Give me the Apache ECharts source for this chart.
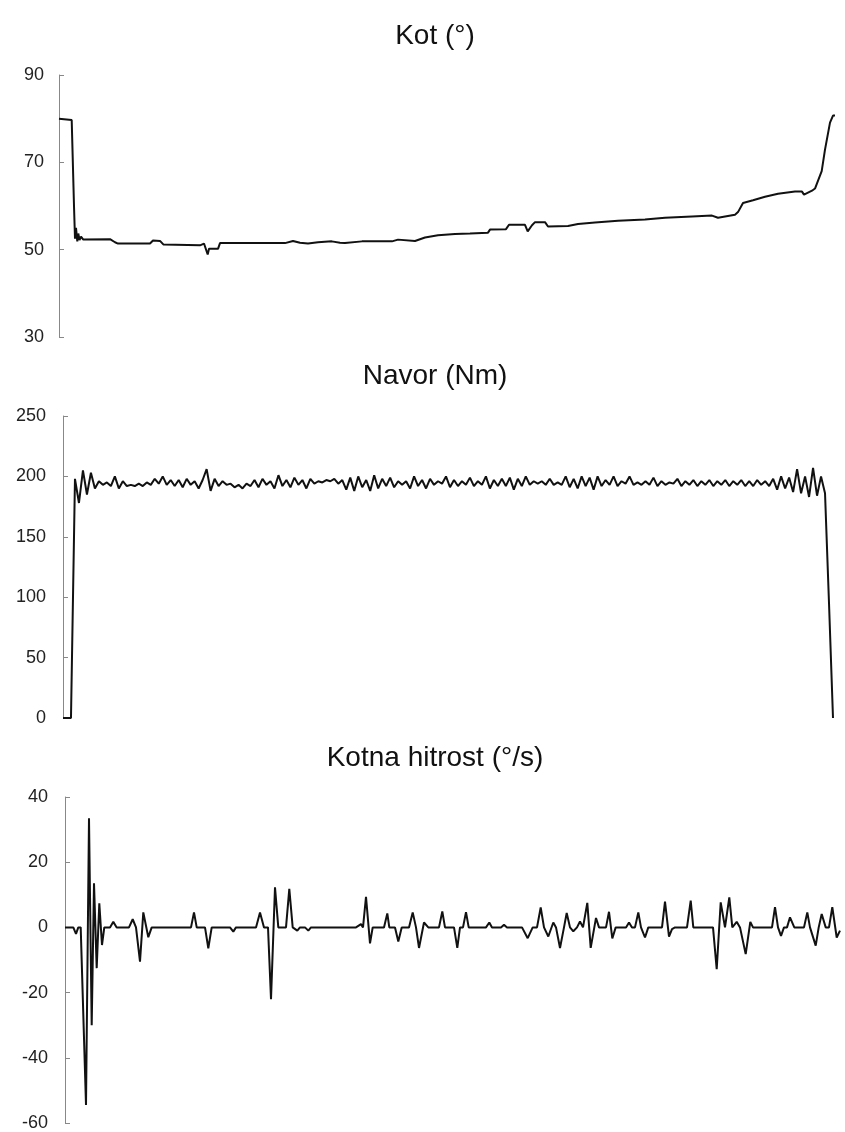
<!DOCTYPE html>
<html>
<head>
<meta charset="utf-8">
<script src="https://cdn.jsdelivr.net/npm/echarts@6/dist/echarts.min.js"></script>
<style>
html,body{margin:0;padding:0;background:#fff;}
#chart{width:845px;height:1132px;}
</style>
</head>
<body>
<div id="chart"></div>
<script>
// ---------- Titles ----------
const titles = ['Kot (°)', 'Navor (Nm)', 'Kotna hitrost (°/s)'];

// ---------- Y-axis ticks ----------
const angleTicks = [30, 50, 70, 90];
const torqueTicks = [0, 50, 100, 150, 200, 250];
const velocityTicks = [-60, -40, -20, 0, 20, 40];

// ---------- Kot (angle): time sample, value ----------
const angleTime = [0,12.7,15,16,17,18.3,19.3,20.5,22,24.3,51,52.7,56,59,91,94,101,104.3,141,145,148.7,150,159,161,216,218,226,234,241,249,259,272.7,281,286,303,333,339,356,366,379,396,411,429,431,447,450,466,468.7,473,476,486,489,509,519,536,559,586,606,633,653,659,676,679,684,694,706,719,736,743,745,753,756,758,762.7,766,771,774,776];
const angleValue = [80,79.7,60,52.5,55,51.9,53.7,52.2,53,52.3,52.4,52.8,51.7,51.4,51.4,52.1,52.0,51.2,51.0,51.4,48.9,50.2,50.2,51.5,51.5,51.9,51.5,52.0,51.6,51.4,51.7,51.9,51.6,51.5,51.9,51.9,52.3,52.0,52.8,53.3,53.6,53.7,53.9,54.6,54.7,55.7,55.7,54.2,55.6,56.3,56.3,55.3,55.4,55.9,56.2,56.6,56.9,57.3,57.6,57.8,57.3,58.0,58.6,60.7,61.3,62.1,62.8,63.3,63.3,62.6,63.5,64.0,65.2,68.0,72.9,79.1,80.7,80.7];

// ---------- Navor (torque): uniformly spaced samples ----------
const torqueValue = [
0,0,0,198,178,205,185,203,190,196,193,195,192,200,190,196,192,193,192,194,
192,195,193,198,194,200,193,197,192,197,191,198,193,196,190,197,206,188,198,192,
196,193,194,191,193,190,194,192,197,191,198,193,196,190,201,192,197,191,199,193,
197,190,198,194,196,195,197,196,198,194,197,189,199,188,200,191,197,188,201,190,
198,192,199,191,196,193,196,190,200,192,197,190,198,193,196,194,200,191,197,192,
196,193,199,192,196,193,200,190,197,192,198,192,199,189,198,192,200,193,196,194,
196,193,198,193,195,193,200,191,198,190,200,192,199,189,200,192,197,193,200,192,
196,194,200,193,195,193,196,193,199,192,196,193,195,194,198,192,196,193,197,192,
196,193,197,192,196,193,197,192,196,193,197,192,196,192,197,193,196,192,198,189,
200,190,199,187,206,186,200,183,207,184,200,186,95,0];

// ---------- Kotna hitrost (angular velocity): time sample, value ----------
const velocityTime = [
0,8.3,11,13.3,15.7,21,24,26.7,29,31.7,34.3,37,39.3,
45,48.3,51.7,
64,67.7,71,75,78.3,83.3,86.7,
126,129,131.7,140,143.3,146.7,
165,168.3,171,
191,195,199,203,206,210,213.3,
221,224.3,227.7,229,232.3,235,240,243.3,246,
291,296,298,301,305,307.7,
319,322.3,324.3,330,333.3,336.7,
344,347.7,351,354,359,363.3,
374,377.3,380,
389,392.3,395,398,401,403.7,
421,424.3,427,436,439,442,
457,462.7,467.7,472,475.7,479,483.3,488.3,491,495,499,501.7,505,508.3,512,515,518,522.3,525.7,531,534,
541,544,547.3,550.7,
561,564,567,570,573.3,576,580,583.3,
597,600,604,607,610,
622,625.7,628.3,
648,651.7,655.7,660,661,664.3,667.3,669,671.7,675,677,680.7,685.3,688,
707,710,713,716,719,722,725,729.3,
739,742.3,745,750.7,753.7,756.7,760.7,764,767.3,771.7,775];
const velocityValue = [
0,0,-2,0,0,-54.5,33.5,-30,13.5,-12.5,7.4,-5.4,0,
0,1.7,0,
0,2.5,0,-10.5,4.6,-3,0,
0,4.6,0,0,-6.4,0,
0,-1.3,0,
0,4.6,0,0,-22,12.3,0,
0,11.8,0,0,-1,0,0,-1,0,
0,1,0,9.4,-4.9,0,
0,4.3,0,0,-4.3,0,
0,4.6,0,-6.3,1.5,0,
0,4.9,0,
0,-6.3,0,0,4.7,0,
0,1.5,0,0,0.8,0,
0,-3.3,0,0,6.1,0,-2.8,1.5,0,-6.3,0,4.4,0,-1.2,0,1.8,0,7.5,-6.3,2.9,0,
0,4.8,-3.4,0,
0,1.5,0,0,4.6,0,-3.1,0,
0,7.9,-2.8,-0.5,0,
0,8.2,0,
0,-12.8,7.7,0,0,9.2,0,0,1.7,0,0,-8.2,1.7,0,
0,6.2,0,-2.6,0,0,3.1,0,
0,4.6,0,-5.6,0,4.1,0,0,6.2,-3.1,-1];

// ---------- Build options ----------
function zip(t, v) { return t.map((x, i) => [x, v[i]]); }

const grids = [
  {left: 59, right: 10, top: 75, height: 262},
  {left: 63, right: 12, top: 416, height: 302},
  {left: 65, right: 5, top: 797, height: 326}
];
const titleTops = [17, 357, 739];
const labelMargins = [15, 17, 17];
const yRanges = [
  {min: angleTicks[0], max: angleTicks[angleTicks.length - 1], interval: 20},
  {min: torqueTicks[0], max: torqueTicks[torqueTicks.length - 1], interval: 50},
  {min: velocityTicks[0], max: velocityTicks[velocityTicks.length - 1], interval: 20}
];
const xMax = [776, torqueValue.length - 1, 775];

const FONT = '"Liberation Sans", Arial, sans-serif';

const option = {
  animation: false,
  backgroundColor: '#fff',
  title: titles.map((t, i) => ({
    text: t,
    left: 430,
    top: titleTops[i],
    textAlign: 'center',
    textStyle: {fontFamily: FONT, fontSize: 28, fontWeight: 'normal', color: '#111'}
  })),
  grid: grids,
  xAxis: [0, 1, 2].map(i => ({
    gridIndex: i,
    type: i === 1 ? 'category' : 'value',
    boundaryGap: false,
    data: i === 1 ? torqueValue.map((_, k) => k) : undefined,
    min: i === 1 ? undefined : 0,
    max: i === 1 ? undefined : xMax[i],
    show: false
  })),
  yAxis: [0, 1, 2].map(i => ({
    gridIndex: i,
    type: 'value',
    min: yRanges[i].min,
    max: yRanges[i].max,
    interval: yRanges[i].interval,
    splitLine: {show: false},
    axisLine: {show: true, lineStyle: {color: '#888', width: 1}},
    axisTick: {show: true, inside: true, length: 5, lineStyle: {color: '#888'}},
    axisLabel: {margin: labelMargins[i], fontFamily: FONT, fontSize: 18, color: '#222'}
  })),
  series: [
    {
      type: 'line', xAxisIndex: 0, yAxisIndex: 0, showSymbol: false,
      data: zip(angleTime, angleValue),
      lineStyle: {color: '#111', width: 2}
    },
    {
      type: 'line', xAxisIndex: 1, yAxisIndex: 1, showSymbol: false,
      data: torqueValue,
      lineStyle: {color: '#111', width: 2}
    },
    {
      type: 'line', xAxisIndex: 2, yAxisIndex: 2, showSymbol: false,
      data: zip(velocityTime, velocityValue),
      lineStyle: {color: '#111', width: 2}
    }
  ]
};

const chart = echarts.init(document.getElementById('chart'), null, {renderer: 'canvas'});
chart.setOption(option);
</script>
</body>
</html>
